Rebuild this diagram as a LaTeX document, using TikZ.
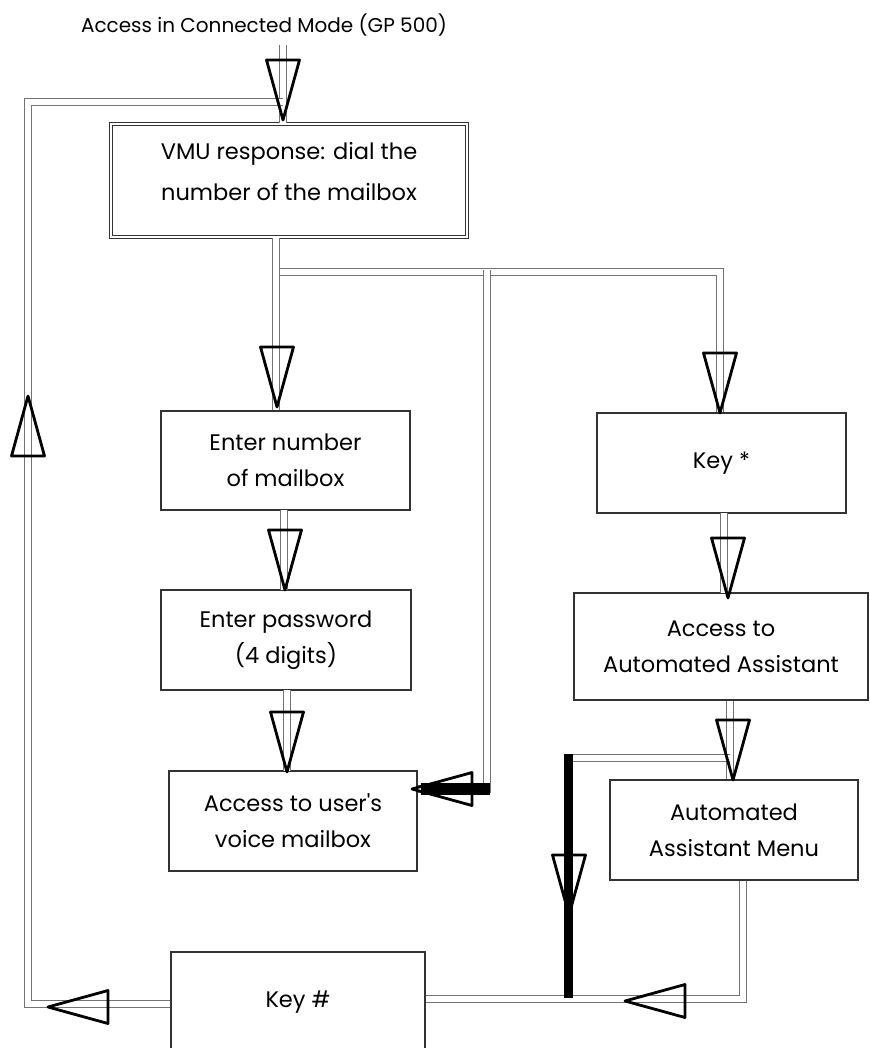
\documentclass[tikz,border=0pt]{standalone}
\usepackage{fontspec}
\setmainfont{Poppins}
\usetikzlibrary{positioning}
\tikzset{
  box/.style={draw=black!80, line width=1.2pt, fill=white, align=center, inner sep=0pt,
    font=\fontsize{22.5}{36}\selectfont},
  vmubox/.style={box, double, double distance=1.3pt, line width=1pt},
  pipe/.style={draw=black!55, line width=0.8pt, double=white, double distance=6.5pt},
  bar/.style={draw=black, line width=9pt},
  pics/tri/.style={code={\draw[line width=2.8pt, line join=round] (0,0) -- (-60,-16.5) -- (-60,16.5) -- cycle;}}
}
\begin{document}
\begin{tikzpicture}[x=1pt,y=-1pt]
\useasboundingbox (0,0) rectangle (869,1048);
% Text Node
\node[font=\fontsize{20}{24}\selectfont] (title) at (264,25) {Access in Connected Mode (GP 500)};
% Boxes
\node[vmubox, minimum width=356, minimum height=113] (vmu) at (289,180.5) {};
\node[font=\fontsize{22.5}{41}\selectfont, align=center] (vmutext) at (289,172) {VMU response: dial the\\number of the mailbox};
\node[box, minimum width=249, minimum height=99] (num) at (285.5,460.5) {Enter number\\of mailbox};
\node[box, minimum width=250, minimum height=100] (pwd) at (286,640) {Enter password\\(4 digits)};
\node[box, minimum width=248, minimum height=100] (umb) at (293,821) {Access to user\textquotesingle s\\voice mailbox};
\node[box, minimum width=249, minimum height=100] (keystar) at (721.5,463) {Key *};
\node[box, minimum width=294, minimum height=107] (aa) at (721,646.5) {Access to\\Automated Assistant};
\node[box, minimum width=248, minimum height=100] (aam) at (734,830) {Automated\\Assistant Menu};
\node[box, minimum width=254, minimum height=100] (keyhash) at (298,1002) {Key \#};
% Bends
\coordinate (in) at (283,45);
\coordinate (lb) at (28,1004);
\coordinate (lt) at (28,102);
\coordinate (vb) at (276,238);
\coordinate (br) at (720,272);
\coordinate (mt) at (487,270);
\coordinate (mb) at (487,789);
\coordinate (am) at (730,758);
\coordinate (tk) at (568,758);
\coordinate (rb) at (743,999);
% Pipes
\draw[pipe] (in) -- (in |- vmu.north);
\draw[pipe] (keyhash.west |- lb) -- (lb) -- (lt) -- (lt -| in);
\draw[pipe] (vb) -- (vb |- num.north);
\draw[pipe] ([xshift=4pt]vb |- br) -- (br) -- (br |- keystar.north);
\draw[pipe] (mt) -- (mb) -- (mb -| umb.east);
\draw[pipe] (284,510) -- (284,590);
\draw[pipe] (287,690) -- (287,771);
\draw[pipe] (724,513) -- (724,593);
\draw[pipe] (am |- aa.south) -- (am |- aam.north);
\draw[pipe] (am) -- (tk);
\draw[pipe] (rb |- aam.south) -- (rb) -- (rb -| keyhash.east);
% Thick bars
\draw[bar, line width=12pt] ([xshift=3pt]mb -| umb.east) -- ([xshift=3pt]mb);
\draw[bar] ([yshift=4pt]tk) -- (568,998);
% Arrowheads
\pic[rotate=-90] at (283,120) {tri};
\pic[rotate=90] at (28,396) {tri};
\pic[rotate=180] at (48,1007) {tri};
\pic[rotate=-90] at (277,407) {tri};
\pic[rotate=-90] at (720,413) {tri};
\pic[rotate=180] at (412,789) {tri};
\pic[rotate=-90] at (285,590) {tri};
\pic[rotate=-90] at (287,772) {tri};
\pic[rotate=-90] at (728,598) {tri};
\pic[rotate=-90] at (733,780) {tri};
\pic[rotate=-90] at (569,915) {tri};
\pic[rotate=180] at (625,1001) {tri};
\end{tikzpicture}
\end{document}
